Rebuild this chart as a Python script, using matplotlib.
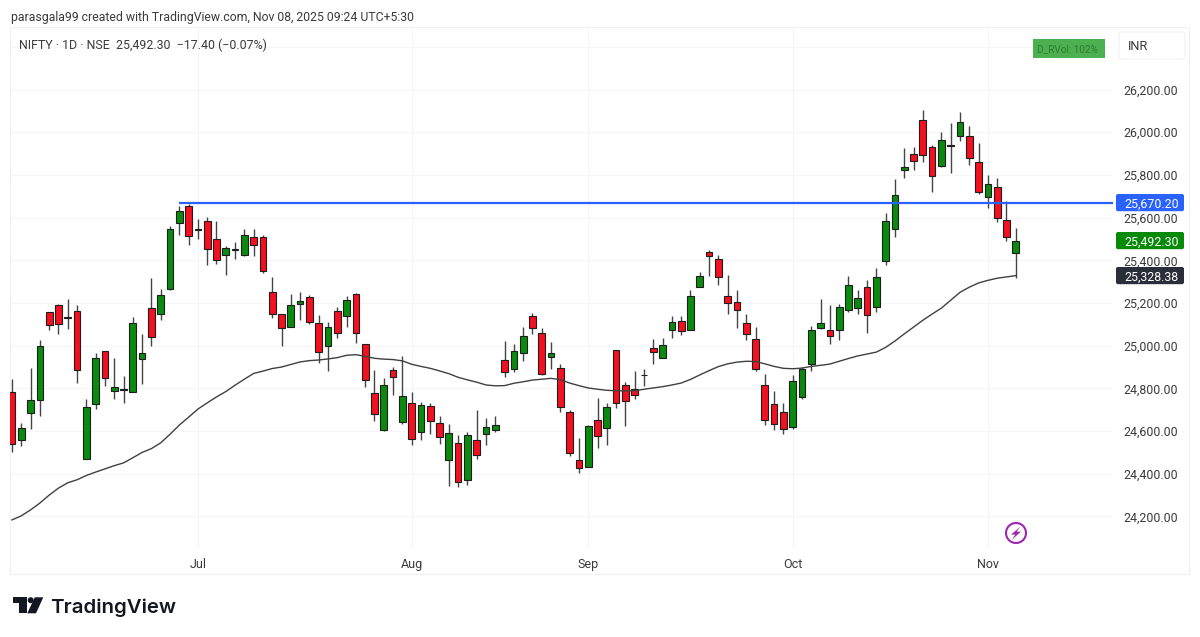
import matplotlib
matplotlib.use("Agg")
import matplotlib.pyplot as plt
from matplotlib.patches import Circle, FancyBboxPatch, Polygon, Rectangle

plt.rcParams['font.family'] = ['Roboto', 'DejaVu Sans']

opens = [24781, 24558, 24687, 24745, 25156, 25191, 25135, 25161, 24470, 24728,
         24973, 24786, 24797, 24784, 24936, 25175, 25147, 25264, 25573, 25656,
         25547, 25583, 25502, 25426, 25448, 25425, 25509, 25508, 25250, 25147,
         25088, 25195, 25226, 25106, 24997, 25164, 25138, 25241, 25007, 24780,
         24607, 24888, 24642, 24730, 24595, 24718, 24637, 24464, 24542, 24370,
         24560, 24587, 24604, 24934, 24891, 24966, 25137, 25061, 24948, 24897,
         24691, 24465, 24431, 24650, 24616, 24978, 24814, 24799, 24863, 24987,
         24944, 25072, 25115, 25072, 25274, 25438, 25407, 25235, 25204, 25106,
         25031, 24816, 24726, 24689, 24617, 24758, 24915, 25083, 25075, 25073,
         25166, 25176, 25275, 25181, 25395, 25545, 25823, 25897, 26055, 25931,
         25844, 25937, 25983, 25981, 25861, 25697, 25742, 25591, 25433]
highs = [24842, 24639, 24895, 25026, 25156, 25195, 25220, 25191, 24750, 24964,
         24977, 24944, 24859, 25134, 25053, 25316, 25264, 25562, 25652, 25664,
         25592, 25602, 25584, 25467, 25487, 25545, 25545, 25519, 25320, 25147,
         25244, 25253, 25236, 25142, 25111, 25180, 25231, 25247, 25007, 24888,
         24847, 24900, 24953, 24782, 24735, 24732, 24670, 24634, 24584, 24596,
         24701, 24662, 24673, 25020, 25009, 25086, 25151, 25083, 25019, 24916,
         24697, 24569, 24630, 24753, 24732, 24978, 24830, 24883, 24889, 25033,
         25036, 25137, 25137, 25259, 25343, 25448, 25424, 25329, 25259, 25148,
         25089, 24866, 24789, 24730, 24864, 24898, 25092, 25219, 25190, 25197,
         25328, 25262, 25306, 25362, 25623, 25780, 25925, 25933, 26105, 25939,
         26003, 26042, 26095, 26028, 25951, 25801, 25786, 25676, 25550]
lows = [24500, 24528, 24611, 24669, 25075, 25053, 25078, 24825, 24470, 24702,
        24812, 24748, 24733, 24784, 24822, 24997, 25122, 25261, 25520, 25472,
        25498, 25376, 25383, 25330, 25405, 25422, 25422, 25339, 25128, 25000,
        25088, 25120, 25102, 24919, 24883, 25035, 25086, 25013, 24807, 24646,
        24601, 24771, 24635, 24535, 24556, 24588, 24540, 24342, 24339, 24348,
        24467, 24535, 24598, 24853, 24877, 24930, 25056, 24861, 24892, 24689,
        24482, 24406, 24431, 24523, 24533, 24708, 24622, 24750, 24813, 24914,
        24942, 25036, 25048, 25072, 25274, 25328, 25284, 25150, 25084, 25025,
        24880, 24630, 24606, 24587, 24609, 24748, 24883, 25078, 25008, 25025,
        25158, 25150, 25061, 25159, 25376, 25508, 25787, 25823, 25862, 25719,
        25836, 25809, 25961, 25845, 25709, 25645, 25578, 25489, 25319]
closes = [24539, 24614, 24745, 24998, 25098, 25102, 25132, 24886, 24714, 24942,
          24850, 24806, 24791, 25108, 24966, 25042, 25239, 25545, 25633, 25514,
          25541, 25452, 25402, 25456, 25455, 25517, 25473, 25352, 25148, 25081,
          25192, 25209, 25110, 24969, 25088, 25061, 25216, 25061, 24837, 24679,
          24818, 24852, 24766, 24565, 24721, 24649, 24573, 24593, 24362, 24582,
          24487, 24617, 24628, 24875, 24977, 25047, 25081, 24866, 24964, 24711,
          24499, 24426, 24624, 24577, 24711, 24732, 24739, 24771, 24864, 24970,
          25001, 25111, 25067, 25234, 25328, 25421, 25324, 25198, 25167, 25055,
          24890, 24651, 24633, 24609, 24834, 24890, 25073, 25106, 25045, 25180,
          25283, 25223, 25144, 25322, 25583, 25708, 25839, 25867, 25892, 25794,
          25962, 25941, 26050, 25878, 25720, 25759, 25597, 25508, 25492.30]
ma_line = [24184, 24203, 24231, 24263, 24300, 24333, 24358, 24372, 24392, 24408,
           24423, 24438, 24451, 24475, 24500, 24518, 24545, 24585, 24628, 24665,
           24703, 24732, 24760, 24785, 24815, 24843, 24870, 24881, 24893, 24900,
           24912, 24924, 24930, 24933, 24938, 24944, 24955, 24958, 24950, 24941,
           24937, 24935, 24929, 24913, 24903, 24894, 24882, 24869, 24852, 24840,
           24829, 24816, 24812, 24813, 24824, 24831, 24839, 24843, 24847, 24841,
           24825, 24813, 24802, 24796, 24791, 24789, 24788, 24789, 24796, 24802,
           24808, 24816, 24825, 24842, 24863, 24883, 24902, 24915, 24923, 24927,
           24926, 24915, 24903, 24894, 24892, 24895, 24903, 24908, 24914, 24927,
           24940, 24952, 24961, 24970, 24992, 25022, 25055, 25087, 25119, 25148,
           25176, 25213, 25250, 25274, 25294, 25306, 25316, 25322, 25328.38]

month_pos = [20, 43, 62, 84, 105]
month_labels = ["Jul", "Aug", "Sep", "Oct", "Nov"]
price_ticks = [24200, 24400, 24600, 24800, 25000, 25200, 25400, 25600, 25800, 26000, 26200, 26400]
level_start = 18
level_price = 25670.20
last_price = 25492.30
ma_price = 25328.38

UP = "#0a8a0f"
DOWN = "#f5101f"
EDGE = "#1e1e1e"
WICK = "#454545"
TEXT = "#3a3a3a"
GRID = "#f4f5f7"
FRAME = "#eef0f4"

W, H = 1200, 637
L, R, T, B = 10, 1113, 28, 548

fig = plt.figure(figsize=(W / 100, H / 100), dpi=100, facecolor="white")

# overlay in pixels, for frame, badges, logo
ov = fig.add_axes([0, 0, 1, 1], zorder=0)
ov.set_xlim(0, W)
ov.set_ylim(H, 0)
ov.axis("off")
ov.add_patch(Rectangle((10, 27), 1179, 547, fc="none", ec=FRAME, lw=0.8))

ax = fig.add_axes([L / W, 1 - B / H, (R - L) / W, (B - T) / H], zorder=1)
ax.patch.set_alpha(0)
px_per_bar = 9.294
ax.set_xlim((L - 12) / px_per_bar, (R - 12) / px_per_bar)
ax.set_ylim(26200 - (B - 89.5) * 4.684, 26200 + (89.5 - T) * 4.684)
for s in ax.spines.values():
    s.set_visible(False)

ax.set_yticks(price_ticks)
ax.set_yticklabels([f"{p:,.2f}" if p < 26400 else "" for p in price_ticks])
ax.set_xticks(month_pos)
ax.set_xticklabels(month_labels)
ax.yaxis.tick_right()
ax.tick_params(axis="y", length=0, pad=7.5, labelsize=8.9, labelcolor=TEXT)
ax.tick_params(axis="x", length=0, pad=7, labelsize=9, labelcolor=TEXT)
for lab in ax.get_yticklabels():
    lab.set_y(lab.get_position()[1])
ax.grid(True, color=GRID, lw=0.8)
ax.set_axisbelow(True)

bars = range(len(opens))
colors = [UP if c >= o else DOWN for o, c in zip(opens, closes)]
ax.vlines(bars, lows, highs, color=WICK, lw=1.0, zorder=3)
ax.bar(bars, [c - o for o, c in zip(opens, closes)], bottom=opens, width=0.72,
       color=colors, edgecolor=EDGE, linewidth=0.8, zorder=4)
ax.plot(bars, ma_line, color="#404040", lw=1.0, zorder=5)
ax.hlines(level_price, level_start, ax.get_xlim()[1], color="#2962ff", lw=1.6, zorder=6)


def price_y(p):
    return 89.5 + (26200 - p) / 4.684


def badge(x0, y0, x1, y1, fc, ec="none", rad=2, z=3):
    ov2.add_patch(FancyBboxPatch((x0 + rad, y0 + rad), x1 - x0 - 2 * rad, y1 - y0 - 2 * rad,
                                 boxstyle=f"round,pad={rad},rounding_size={rad}",
                                 fc=fc, ec=ec, lw=0.8, zorder=z))


# second overlay above the chart
ov2 = fig.add_axes([0, 0, 1, 1], zorder=2)
ov2.set_xlim(0, W)
ov2.set_ylim(H, 0)
ov2.axis("off")
ov2.patch.set_alpha(0)

for price, fc in [(level_price, "#2962ff"), (last_price, "#078a07"), (ma_price, "#2a2e39")]:
    yc = price_y(price)
    badge(1116, yc - 8.6, 1184, yc + 8.6, fc)
    ov2.text(1124, yc, f"{price:,.2f}", color="white", fontsize=8.9, va="center_baseline", ha="left")

ov2.add_patch(Rectangle((1033, 38.5), 71.5, 19.5, fc="#4caf50", ec="none"))
ov2.text(1037, 48.5, "D_RVol: 102%", color="#2e7d32", fontsize=7.2, va="center_baseline", ha="left")
badge(1119, 32, 1185, 59, "white", ec="#f1f2f5", rad=3)
ov2.text(1128, 45.5, "INR", color=TEXT, fontsize=9.2, va="center_baseline", ha="left")

ov2.text(11, 15.5, "parasgala99 created with TradingView.com, Nov 08, 2025 09:24 UTC+5:30",
         color=TEXT, fontsize=8.8, va="center_baseline", ha="left")
ov2.text(19, 44, "NIFTY \u00b7 1D \u00b7 NSE  25,492.30  \u221217.40 (\u22120.07%)",
         color=TEXT, fontsize=8.9, va="center_baseline", ha="left")

# lightning icon
ov2.add_patch(Circle((1016, 533), 10, fc="white", ec="#9c27b0", lw=1.5))
ov2.add_patch(Polygon([(1020.5, 526.5), (1011, 534.6), (1015.2, 534.6), (1011.8, 539.8),
                       (1021, 531.6), (1016.6, 531.6)], fc="#9c27b0", ec="none"))

# TradingView logo
LOGO = "#131722"
ov2.add_patch(Polygon([(12.7, 597.3), (26.7, 597.3), (26.7, 613.3), (19, 613.3),
                       (19, 603.3), (12.7, 603.3)], fc=LOGO, ec="none"))
ov2.add_patch(Circle((30.7, 600.2), 3, fc=LOGO, ec="none"))
ov2.add_patch(Polygon([(34.7, 597.3), (43.3, 597.3), (36, 613.3), (27.3, 613.3)], fc=LOGO, ec="none"))
ov2.text(50.5, 606, "TradingView", color=LOGO, fontsize=14.7, fontweight="semibold",
         family=["Inter", "DejaVu Sans"], va="center_baseline", ha="left")

fig.savefig("out.png", dpi=100)
